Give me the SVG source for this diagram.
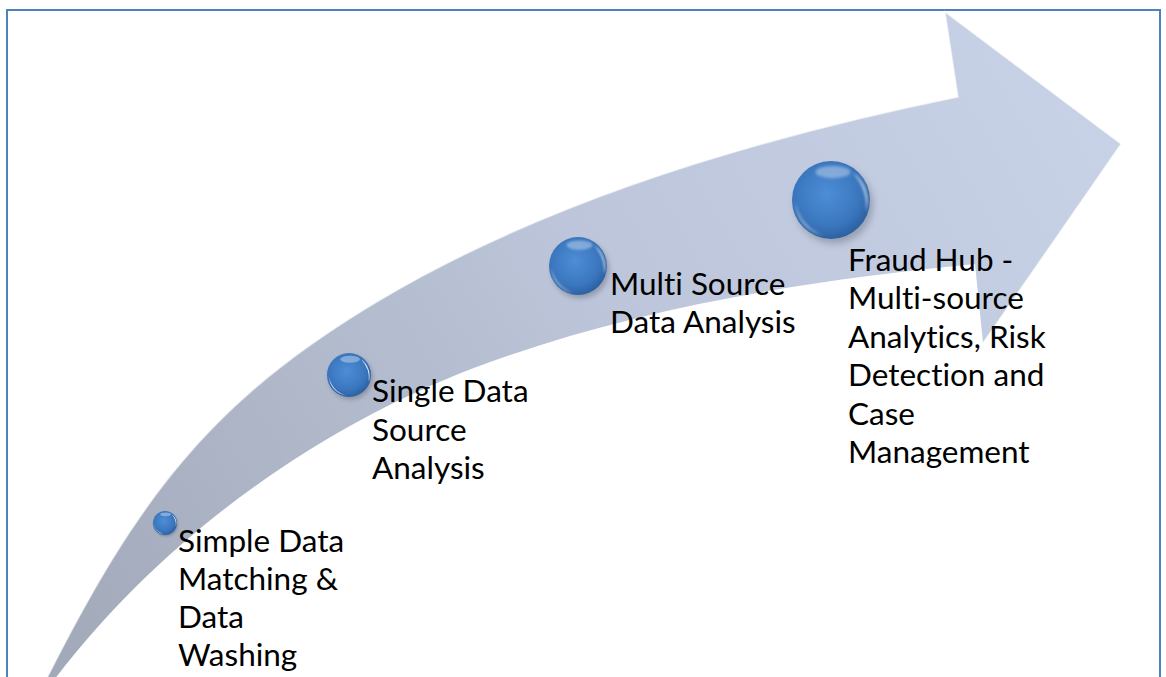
<svg xmlns="http://www.w3.org/2000/svg" xmlns:xlink="http://www.w3.org/1999/xlink" width="1166" height="677" viewBox="0 0 1166 677">
  <style>
    .lbl { font-family: Lato, "Open Sans", "Liberation Sans", sans-serif; font-size: 31.5px; fill: #000000; font-variant-ligatures: none; }
    .frame { fill: none; stroke: #4f81bd; stroke-width: 2; }
  </style>
  <defs>
    <linearGradient id="arrowG" gradientUnits="userSpaceOnUse" x1="1080" y1="60" x2="60" y2="660">
      <stop offset="0" stop-color="#c8d2e6"/>
      <stop offset="0.45" stop-color="#bcc5d9"/>
      <stop offset="1" stop-color="#a2a9b9"/>
    </linearGradient>
    <radialGradient id="ballG" cx="0.45" cy="0.42" r="0.6">
      <stop offset="0" stop-color="#4d8ed6"/>
      <stop offset="0.7" stop-color="#3a76be"/>
      <stop offset="1" stop-color="#2b5f9f"/>
    </radialGradient>
    <filter id="soft" x="-0.5" y="-0.5" width="2" height="2">
      <feGaussianBlur stdDeviation="0.035"/>
    </filter>
    <filter id="shadowF" x="-0.5" y="-0.5" width="2" height="2">
      <feGaussianBlur stdDeviation="0.1"/>
    </filter>
    <g id="ball">
      <ellipse cx="0.08" cy="0.12" rx="1" ry="1" fill="#4a5060" opacity="0.35" filter="url(#shadowF)"/>
      <circle r="1" fill="url(#ballG)"/>
      <path d="M -0.92,0.05 A 0.93 0.93 0 0 0 -0.15,0.92 A 1.05 1.05 0 0 1 -0.92,0.05 Z" fill="#ffffff" opacity="0.95" filter="url(#soft)"/>
      <path d="M 0.55,-0.72 A 0.94 0.94 0 0 1 0.9,0.3 A 1.3 1.3 0 0 0 0.55,-0.72 Z" fill="#ffffff" opacity="0.85" filter="url(#soft)"/>
      <ellipse cx="0.05" cy="-0.72" rx="0.45" ry="0.16" fill="#ffffff" opacity="0.35" filter="url(#soft)"/>
    </g>
  </defs>

  <rect width="1166" height="677" fill="#ffffff"/>
  <rect class="frame" x="7" y="10" width="1153" height="720"/>

  <g id="connectors">
    <path id="arrow" d="M 46,680 C 136,502 208,402 380,300 C 552,198 762,137 958,97 L 945,12 L 1121,144 L 983,343 L 975,264 C 811,280 645,306 490,362 C 321,423 164,536 54,680 Z" fill="url(#arrowG)"/>
    <path d="M 46,680 C 136,502 208,402 380,300 C 552,198 762,137 958,97 L 945,12 L 1121,144 L 983,343" fill="none" stroke="#ffffff" stroke-opacity="0.55" stroke-width="1.5"/>
  </g>

  <g id="node1">
    <use xlink:href="#ball" transform="translate(165,523) scale(12)"/>
    <text class="lbl" x="178" y="552">Simple Data</text>
    <text class="lbl" x="178" y="590">Matching &amp;</text>
    <text class="lbl" x="178" y="628">Data</text>
    <text class="lbl" x="178" y="666">Washing</text>
  </g>
  <g id="node2">
    <use xlink:href="#ball" transform="translate(349,375) scale(22)"/>
    <text class="lbl" x="372" y="402">Single Data</text>
    <text class="lbl" x="372" y="441">Source</text>
    <text class="lbl" x="372" y="479">Analysis</text>
  </g>
  <g id="node3">
    <use xlink:href="#ball" transform="translate(578,266) scale(29)"/>
    <text class="lbl" x="610" y="295">Multi Source</text>
    <text class="lbl" x="610" y="333">Data Analysis</text>
  </g>
  <g id="node4">
    <use xlink:href="#ball" transform="translate(831,200) scale(39)"/>
    <text class="lbl" x="848" y="271">Fraud Hub -</text>
    <text class="lbl" x="848" y="309">Multi-source</text>
    <text class="lbl" x="848" y="348">Analytics, Risk</text>
    <text class="lbl" x="848" y="386">Detection and</text>
    <text class="lbl" x="848" y="425">Case</text>
    <text class="lbl" x="848" y="463">Management</text>
  </g>
</svg>
